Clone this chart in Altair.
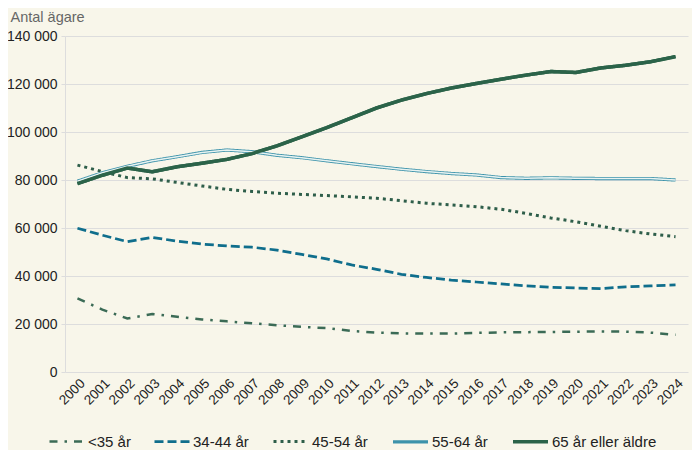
import altair as alt
import pandas as pd

years = [str(y) for y in range(2000, 2025)]

under35 = [30700, 26000, 22300, 24200, 23000, 21900, 21100, 20300, 19500, 18800, 18300, 17100,
           16400, 16100, 16000, 16000, 16300, 16500, 16600, 16700, 16800, 16900, 16800, 16400, 15500]
s34_44 = [59900, 57000, 54300, 56100, 54500, 53300, 52500, 52000, 50800, 49000, 47100, 44600,
          42800, 40700, 39400, 38300, 37500, 36700, 35900, 35300, 35000, 34700, 35500, 35900, 36300]
s45_54 = [86200, 83500, 81000, 80500, 79000, 77500, 76100, 75200, 74500, 74000, 73500, 73000,
          72400, 71400, 70300, 69600, 68900, 67800, 66100, 64200, 62600, 60700, 58900, 57500, 56400]
s55_64 = [79500, 83000, 85700, 88000, 89700, 91500, 92500, 91800, 90300, 89300, 88000, 86800,
          85600, 84500, 83500, 82700, 82100, 81000, 80700, 80900, 80700, 80600, 80600, 80600, 80000]
s65 = [78500, 82000, 85000, 83400, 85500, 87000, 88600, 91000, 94200, 98000, 101800, 105900,
       110000, 113300, 116000, 118300, 120200, 122000, 123700, 125200, 124800, 126700, 127800, 129300, 131400]

series = ["<35 år", "34-44 år", "45-54 år", "55-64 år", "65 år eller äldre"]
values = [under35, s34_44, s45_54, s55_64, s65]
colors = ["#3b6b56", "#0f6e8c", "#2e5e4a", "#3d93ab", "#2b6349"]
dashes = [[8, 7, 2.5, 7], [9, 4], [3, 4], [1, 0], [1, 0]]
widths = [2.5, 3.5, 3, 4.5, 3.5]

rows = []
for name, vals in zip(series, values):
    for y, v in zip(years, vals):
        rows.append({"year": y, "serie": name, "value": v})
df = pd.DataFrame(rows)

x_enc = alt.X("year:O", scale=alt.Scale(type="point", padding=0.5),
              axis=alt.Axis(title=None, labelAngle=-45, labelFontSize=13.5, labelColor="#222",
                            ticks=False, domain=False, labelPadding=4))
y_enc = alt.Y("value:Q", scale=alt.Scale(domain=[0, 140000]),
              axis=alt.Axis(values=list(range(0, 140001, 20000)),
                            labelExpr="datum.value == 0 ? '0' : format(datum.value / 1000, 'd') + ' 000'",
                            title="Antal ägare", titleAngle=0, titleX=-55, titleY=-12,
                            titleAlign="left", titleBaseline="bottom", titleFontSize=14.5,
                            titleFontWeight="normal", titleColor="#666",
                            labelFontSize=14, labelColor="#222", gridColor="#dddddd",
                            domainColor="#dddddd", tickColor="#dddddd", tickSize=4,
                            labelPadding=4))

base = alt.Chart(df)

main = base.mark_line(strokeCap="butt").encode(
    x=x_enc, y=y_enc,
    color=alt.Color("serie:N", scale=alt.Scale(domain=series, range=colors),
                    legend=alt.Legend(title=None, orient="none", direction="horizontal",
                                      legendX=-17, legendY=386,
                                      symbolType="stroke", symbolStrokeWidth=3.5, symbolSize=1225,
                                      labelFontSize=15, labelColor="#222", columnPadding=18,
                                      labelOffset=2)),
    strokeDash=alt.StrokeDash("serie:N", scale=alt.Scale(domain=series, range=dashes)),
    strokeWidth=alt.StrokeWidth("serie:N", scale=alt.Scale(domain=series, range=widths), legend=None),
)

inner = base.transform_filter(alt.datum.serie == "55-64 år").mark_line(
    color="#e8f3f1", strokeWidth=1.5).encode(x=x_enc, y=y_enc)

top = base.transform_filter(alt.datum.serie == "65 år eller äldre").mark_line(
    color="#2b6349", strokeWidth=3.5).encode(x=x_enc, y=y_enc)

chart = alt.layer(main, inner, top).properties(
    width=623, height=336,
    autosize=alt.AutoSizeParams(type="none"),
    padding={"left": 57, "top": 28, "right": 4, "bottom": 78},
).configure(
    background="#f8f6ea", font="Liberation Sans"
).configure_view(stroke=None)

chart.save("out.html", embed_options={"renderer": "svg", "actions": False})
